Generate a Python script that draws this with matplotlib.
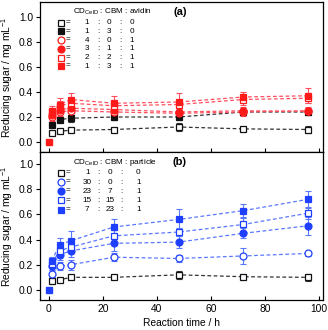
import matplotlib
matplotlib.use("Agg")
import matplotlib.pyplot as plt
import numpy as np

plt.rcParams['font.family'] = ['Liberation Sans', 'DejaVu Sans']
plt.rcParams['mathtext.fontset'] = 'custom'
plt.rcParams['mathtext.rm'] = 'Liberation Sans'
plt.rcParams['mathtext.it'] = 'Liberation Sans:italic'
plt.rcParams['mathtext.bf'] = 'Liberation Sans:bold'

time_h = [1, 4, 8, 24, 48, 72, 96]

# Panel (a): CDCelD : CBM : avidin
a_labels = [("1", "0", "0"), ("1", "3", "0"), ("4", "0", "1"),
            ("3", "1", "1"), ("2", "2", "1"), ("1", "3", "1")]
a_vals = [
    [0.075, 0.085, 0.095, 0.10, 0.12, 0.105, 0.10],
    [0.14, 0.18, 0.19, 0.20, 0.20, 0.24, 0.24],
    [0.20, 0.24, 0.25, 0.24, 0.23, 0.24, 0.25],
    [0.22, 0.26, 0.27, 0.26, 0.24, 0.25, 0.245],
    [0.24, 0.29, 0.31, 0.29, 0.30, 0.34, 0.35],
    [0.25, 0.30, 0.34, 0.31, 0.32, 0.36, 0.37],
]
a_errs = [
    [0.01, 0.01, 0.015, 0.01, 0.03, 0.01, 0.03],
    [0.02, 0.02, 0.03, 0.02, 0.02, 0.02, 0.02],
    [0.03, 0.03, 0.03, 0.03, 0.03, 0.03, 0.03],
    [0.03, 0.03, 0.03, 0.03, 0.03, 0.03, 0.03],
    [0.03, 0.04, 0.04, 0.04, 0.04, 0.04, 0.04],
    [0.04, 0.05, 0.05, 0.06, 0.07, 0.04, 0.06],
]

# Panel (b): CDCelD : CBM : particle
b_labels = [("1", "0", "0"), ("30", "0", "1"), ("23", "7", "1"),
            ("15", "15", "1"), ("7", "23", "1")]
b_vals = [
    [0.07, 0.08, 0.10, 0.10, 0.12, 0.105, 0.10],
    [0.13, 0.19, 0.20, 0.26, 0.25, 0.27, 0.29],
    [0.19, 0.28, 0.31, 0.37, 0.38, 0.45, 0.51],
    [0.21, 0.31, 0.34, 0.43, 0.46, 0.52, 0.61],
    [0.23, 0.36, 0.39, 0.50, 0.56, 0.63, 0.72],
]
b_errs = [
    [0.01, 0.01, 0.01, 0.01, 0.03, 0.01, 0.03],
    [0.03, 0.03, 0.04, 0.03, 0.03, 0.06, 0.02],
    [0.03, 0.04, 0.05, 0.06, 0.05, 0.04, 0.07],
    [0.03, 0.03, 0.05, 0.05, 0.03, 0.05, 0.05],
    [0.03, 0.05, 0.08, 0.06, 0.08, 0.05, 0.07],
]
start_time = [0]
start_val = [0.0]

RED = '#ff1a1a'
RED_L = '#ff5060'
BLUE = '#1f3fff'
BLUE_L = '#5a78ff'
BLK = '#111111'
BLK_L = '#333333'

a_styles = [('s', False, BLK, BLK_L), ('s', True, BLK, BLK_L),
            ('o', False, RED, RED_L), ('o', True, RED, RED_L),
            ('s', False, RED, RED_L), ('s', True, RED, RED_L)]
b_styles = [('s', False, BLK, BLK_L), ('o', False, BLUE, BLUE_L),
            ('o', True, BLUE, BLUE_L), ('s', False, BLUE, BLUE_L),
            ('s', True, BLUE, BLUE_L)]

fig = plt.figure(figsize=(3.28, 3.30), dpi=100)
L, R = 40/328, 323/328
ax_a = fig.add_axes([L, 1-152/330, R-L, 150/330])
ax_b = fig.add_axes([L, 1-300/330, R-L, 148/330])

FS = 7.4
LFS = 5.9
MS = 5.0


def draw(ax, vals, errs, styles, labels, third, tag, ypos, header_y, xs):
    for v, e, (m, filled, c, cl) in zip(vals, errs, styles):
        ax.errorbar(time_h, v, yerr=e, fmt='none', ecolor=cl, elinewidth=0.8,
                    capsize=2.2, capthick=0.8, zorder=2)
        ax.plot(time_h, v, linestyle=(0, (3, 2)), color=cl, lw=0.9, zorder=1)
        ax.plot(time_h, v, linestyle='none', marker=m, ms=MS,
                mfc=c if filled else 'white', mec=c, mew=0.9, zorder=3)
    m, filled, c, cl = styles[-1]
    ax.plot(start_time, start_val, linestyle='none', marker=m, ms=MS,
            mfc=c, mec=c, zorder=3, clip_on=False)
    ax.set_xlim(-3.3, 101.5)
    ax.set_ylim(-0.08, 1.12 if tag == '(a)' else 1.096)
    ax.set_yticks([0.0, 0.2, 0.4, 0.6, 0.8, 1.0])
    ax.set_xticks([0, 20, 40, 60, 80, 100])
    ax.tick_params(axis='y', direction='out', length=3, width=0.8,
                   labelsize=FS, pad=2)
    ax.tick_params(axis='x', direction='in', length=3, width=0.8,
                   labelsize=FS, pad=3)
    for sp in ax.spines.values():
        sp.set_linewidth(0.9)
    ax.set_ylabel(r'Reducing sugar / mg mL$^{-1}$', fontsize=FS, labelpad=3)
    ax.text(0.494, header_y, tag, transform=ax.transAxes,
            fontsize=FS + 0.6, fontweight='bold', ha='center', va='center')
    # legend table
    ax.text(0.117, header_y, r'CD$_{\mathrm{CelD}}$ : CBM : ' + third,
            transform=ax.transAxes, fontsize=LFS, ha='left', va='center')
    for (m, filled, c, cl), lab, y in zip(styles, labels, ypos):
        ax.plot([0.073], [y], transform=ax.transAxes, marker=m, ms=MS,
                mfc=c if filled else 'white', mec=c, mew=0.9,
                linestyle='none', clip_on=False)
        ax.text(0.100, y, '=', transform=ax.transAxes, fontsize=LFS,
                ha='center', va='center')
        items = [lab[0], ':', lab[1], ':', lab[2]]
        for x, t in zip(xs, items):
            ax.text(x, y, t, transform=ax.transAxes, fontsize=LFS,
                    ha='center', va='center')


draw(ax_a, a_vals, a_errs, a_styles, a_labels, 'avidin', '(a)',
     [0.862, 0.804, 0.746, 0.688, 0.63, 0.572], 0.933,
     [0.165, 0.206, 0.244, 0.283, 0.325])
draw(ax_b, b_vals, b_errs, b_styles, b_labels, 'particle', '(b)',
     [0.86, 0.796, 0.736, 0.674, 0.61], 0.93,
     [0.167, 0.206, 0.247, 0.289, 0.347])
ax_a.tick_params(axis='x', labelbottom=False)
ax_b.set_xlabel('Reaction time / h', fontsize=FS, labelpad=3)

fig.savefig('out.png', dpi=100)
